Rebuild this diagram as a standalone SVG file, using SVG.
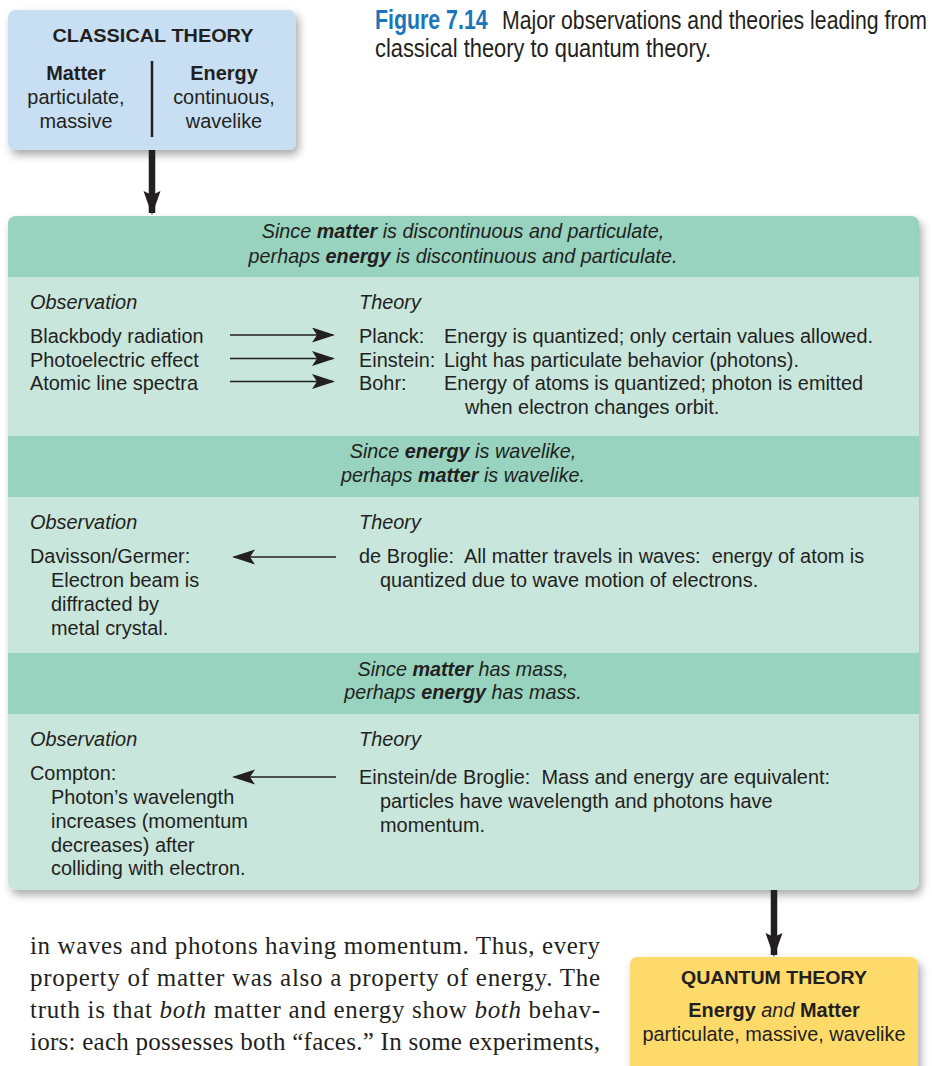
<svg xmlns="http://www.w3.org/2000/svg" width="932" height="1066" viewBox="0 0 932 1066">
<style>
  .sans { font-family: "Liberation Sans", Arial, Helvetica, sans-serif; fill: #231f20; }
  .t { font-size: 19.9px; }
  .hd { font-size: 19.8px; font-style: italic; text-anchor: middle; }
  .lbl { font-size: 19.9px; font-style: italic; }
  .ttl { font-size: 18.5px; font-weight: bold; text-anchor: middle; }
  .mid { text-anchor: middle; }
  .b { font-weight: bold; }
  .serif { font-family: "Liberation Serif", "Times New Roman", serif; font-size: 25px; fill: #231f20; }
  .band { fill: #97d3bf; }
  .thin { stroke: #231f20; stroke-width: 1.7; fill: none; marker-end: url(#ah); }
  .thick { stroke: #231f20; stroke-width: 6.5; fill: none; marker-end: url(#AH); }
</style>
<defs>
  <filter id="sh" x="-10%" y="-10%" width="125%" height="130%">
    <feDropShadow dx="3" dy="5" stdDeviation="4" flood-color="#000" flood-opacity="0.33"/>
  </filter>
  <marker id="ah" markerUnits="userSpaceOnUse" markerWidth="24" markerHeight="16" refX="21" refY="7.5" orient="auto">
    <path d="M0,0 L23,7.5 L0,15 L5,7.5 z" fill="#231f20"/>
  </marker>
  <marker id="AH" markerUnits="userSpaceOnUse" markerWidth="26" markerHeight="18" refX="22" refY="8.5" orient="auto">
    <path d="M0,0 L24,8.5 L0,17 L4,8.5 z" fill="#231f20"/>
  </marker>
  <clipPath id="mainclip"><rect x="8" y="216" width="911" height="674" rx="8"/></clipPath>
</defs>

<rect x="0" y="0" width="932" height="1066" fill="#ffffff"/>

<!-- Caption -->
<g id="caption">
  <text class="sans" transform="translate(375,29) scale(0.79,1)" font-size="27" font-weight="bold" style="fill:#1b75bb">Figure 7.14</text>
  <text class="sans" transform="translate(502,29) scale(0.85,1)" font-size="25">Major observations and theories leading from</text>
  <text class="sans" transform="translate(375,57) scale(0.875,1)" font-size="25">classical theory to quantum theory.</text>
</g>

<!-- Classical theory node -->
<g id="classical-theory">
  <rect x="8" y="10" width="288" height="140" rx="7" fill="#c8dff3" filter="url(#sh)"/>
  <text class="sans ttl" x="153" y="42" textLength="201" lengthAdjust="spacingAndGlyphs">CLASSICAL THEORY</text>
  <line x1="152" y1="61" x2="152" y2="137" stroke="#231f20" stroke-width="2.5"/>
  <text class="sans t mid b" x="76" y="80">Matter</text>
  <text class="sans t mid" x="76" y="104">particulate,</text>
  <text class="sans t mid" x="76" y="128">massive</text>
  <text class="sans t mid b" x="224" y="80">Energy</text>
  <text class="sans t mid" x="224" y="104">continuous,</text>
  <text class="sans t mid" x="224" y="128">wavelike</text>
</g>

<!-- Main panel -->
<g id="main-panel">
  <rect x="8" y="216" width="911" height="674" rx="8" fill="#c9e6dc" filter="url(#sh)"/>
  <g clip-path="url(#mainclip)">
    <rect class="band" x="8" y="216" width="911" height="61"/>
    <rect class="band" x="8" y="436" width="911" height="61"/>
    <rect class="band" x="8" y="653" width="911" height="61"/>
  </g>
</g>

<!-- Section 1 -->
<g id="section-particulate">
  <text class="sans hd" x="463" y="238">Since <tspan class="b">matter</tspan> is discontinuous and particulate,</text>
  <text class="sans hd" x="463" y="263">perhaps <tspan class="b">energy</tspan> is discontinuous and particulate.</text>
  <text class="sans lbl" x="30" y="309">Observation</text>
  <text class="sans lbl" x="359" y="309">Theory</text>
  <text class="sans t" x="30" y="343">Blackbody radiation</text>
  <text class="sans t" x="30" y="366.5">Photoelectric effect</text>
  <text class="sans t" x="30" y="390">Atomic line spectra</text>
  <text class="sans t" x="359" y="343">Planck:</text>
  <text class="sans t" x="444" y="343">Energy is quantized; only certain values allowed.</text>
  <text class="sans t" x="359" y="366.5">Einstein:</text>
  <text class="sans t" x="444" y="366.5">Light has particulate behavior (photons).</text>
  <text class="sans t" x="359" y="390">Bohr:</text>
  <text class="sans t" x="444" y="390">Energy of atoms is quantized; photon is emitted</text>
  <text class="sans t" x="465" y="413.5">when electron changes orbit.</text>
</g>

<!-- Section 2 -->
<g id="section-wavelike">
  <text class="sans hd" x="463" y="458">Since <tspan class="b">energy</tspan> is wavelike,</text>
  <text class="sans hd" x="463" y="482">perhaps <tspan class="b">matter</tspan> is wavelike.</text>
  <text class="sans lbl" x="30" y="529">Observation</text>
  <text class="sans lbl" x="359" y="529">Theory</text>
  <text class="sans t" x="30" y="563">Davisson/Germer:</text>
  <text class="sans t" x="51" y="587">Electron beam is</text>
  <text class="sans t" x="51" y="611">diffracted by</text>
  <text class="sans t" x="51" y="635">metal crystal.</text>
  <text class="sans t" x="359" y="563" xml:space="preserve">de Broglie:  All matter travels in waves:  energy of atom is</text>
  <text class="sans t" x="380" y="587">quantized due to wave motion of electrons.</text>
</g>

<!-- Section 3 -->
<g id="section-mass">
  <text class="sans hd" x="463" y="676">Since <tspan class="b">matter</tspan> has mass,</text>
  <text class="sans hd" x="463" y="699">perhaps <tspan class="b">energy</tspan> has mass.</text>
  <text class="sans lbl" x="30" y="746">Observation</text>
  <text class="sans lbl" x="359" y="746">Theory</text>
  <text class="sans t" x="30" y="780">Compton:</text>
  <text class="sans t" x="51" y="803.5">Photon’s wavelength</text>
  <text class="sans t" x="51" y="827.5">increases (momentum</text>
  <text class="sans t" x="51" y="851.5">decreases) after</text>
  <text class="sans t" x="51" y="875">colliding with electron.</text>
  <text class="sans t" x="359" y="784" xml:space="preserve">Einstein/de Broglie:  Mass and energy are equivalent:</text>
  <text class="sans t" x="380" y="808">particles have wavelength and photons have</text>
  <text class="sans t" x="380" y="832">momentum.</text>
</g>

<!-- Quantum theory node -->
<g id="quantum-theory">
  <rect x="630" y="957" width="288" height="130" rx="7" fill="#fdda6a" filter="url(#sh)"/>
  <text class="sans ttl" x="774" y="984" textLength="186" lengthAdjust="spacingAndGlyphs">QUANTUM THEORY</text>
  <text class="sans t mid" x="774" y="1017"><tspan class="b">Energy</tspan> <tspan font-style="italic">and</tspan> <tspan class="b">Matter</tspan></text>
  <text class="sans t mid" x="774" y="1041">particulate, massive, wavelike</text>
</g>

<!-- Connectors -->
<g id="connectors">
  <line class="thick" x1="152" y1="150" x2="152" y2="213"/>
  <line class="thick" x1="774" y1="890" x2="774" y2="955"/>
  <line class="thin" x1="230" y1="335" x2="333" y2="335"/>
  <line class="thin" x1="230" y1="358.5" x2="333" y2="358.5"/>
  <line class="thin" x1="230" y1="381.5" x2="333" y2="381.5"/>
  <line class="thin" x1="336" y1="557" x2="234" y2="557"/>
  <line class="thin" x1="336" y1="777" x2="234" y2="777"/>
</g>

<!-- Body text -->
<g id="body-text" class="serif">
  <text x="30" y="954" textLength="570" lengthAdjust="spacing">in waves and photons having momentum. Thus, every</text>
  <text x="30" y="986" textLength="570" lengthAdjust="spacing">property of matter was also a property of energy. The</text>
  <text x="30" y="1018" textLength="570" lengthAdjust="spacing">truth is that <tspan font-style="italic">both</tspan> matter and energy show <tspan font-style="italic">both</tspan> behav-</text>
  <text x="30" y="1050" textLength="570" lengthAdjust="spacing">iors: each possesses both “faces.” In some experiments,</text>
</g>
</svg>
